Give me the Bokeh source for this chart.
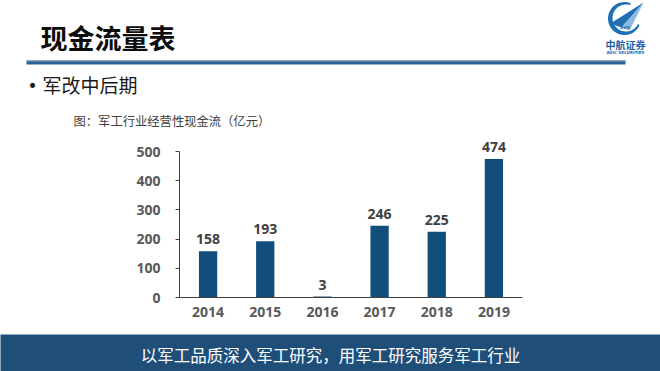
import numpy as np
from bokeh.plotting import figure
from bokeh.layouts import column
from bokeh.models import (ColumnDataSource, LabelSet, Label, FactorRange, Range1d)
from bokeh.core.properties import value
from bokeh.embed import file_html
from bokeh.resources import INLINE

# ---- data ----
years = ["2014", "2015", "2016", "2017", "2018", "2019"]
cash_flow = [158, 193, 3, 246, 225, 474]
value_labels = ["158", "193", "3", "246", "225", "474"]
y_ticks = [0, 100, 200, 300, 400, 500]

title_text = "现金流量表"
bullet_text = "军改中后期"
subtitle_text = "图：军工行业经营性现金流（亿元）"
footer_text = "以军工品质深入军工研究，用军工研究服务军工行业"

CJK = "Noto Sans CJK SC"
NUM = "Open Sans"
W = 660
HEAD_H, CHART_H, FOOT_H = 130, 204, 37


def deco_fig(h, y0):
    f = figure(width=W, height=h, x_range=Range1d(0, W), y_range=Range1d(y0 + h, y0),
               x_axis_type=None, y_axis_type=None, output_backend="svg",
               toolbar_location=None, min_border=0, frame_align=False)
    f.min_border_left = f.min_border_right = f.min_border_top = f.min_border_bottom = 0
    f.xgrid.visible = False
    f.ygrid.visible = False
    f.outline_line_color = None
    return f


def label(f, X, Y, text, size, color, font=CJK, style="normal", align="left"):
    f.add_layout(Label(x=X, y=Y, text=text, text_font=font, text_font_size=size,
                       text_font_style=style, text_color=color,
                       text_align=align, text_baseline="middle"))


# ---- header ----
head = deco_fig(HEAD_H, 0)
head.background_fill_color = "white"
head.border_fill_color = "white"
label(head, 40, 37, title_text, "27px", "#0d0d0d", style="bold")
head.quad(left=26, right=625, top=60, bottom=64, fill_color="#2f6398", line_color=None)
head.quad(left=26, right=625, top=60, bottom=61, fill_color="#7f9fc0", line_color=None)
label(head, 27, 85, "•", "17px", "#1a1a1a", font="DejaVu Sans")
label(head, 42, 84, bullet_text, "19px", "#1a1a1a")
label(head, 73, 120, subtitle_text, "12.3px", "#404040")

# logo
cx, cy = 624.0, 18.0
t = np.linspace(np.radians(70), np.radians(335), 40)
ox = list(cx + 16.5 * np.cos(t))
oy = list(cy - 16.5 * np.sin(t))
ix = list(cx + 1.5 + 13.5 * np.cos(t[::-1]))
iy = list(cy - 0.5 - 13.5 * np.sin(t[::-1]))
head.patch(ox + ix, oy + iy, fill_color="#1e6fb5", line_color=None)
head.patch([610, 643, 621], [23, 2, 27], fill_color="#1e6fb5", line_color=None)
head.patch([621, 643, 629], [27, 2, 30], fill_color="#8db8e0", line_color=None)
label(head, 625, 27, "AVIC", "4px", "#1e6fb5", font="DejaVu Sans", style="bold italic",
      align="center")
label(head, 625, 44, "中航证券", "10px", "#1e5fa8", style="bold", align="center")
label(head, 625, 52, "AVIC SECURITIES", "4px", "#1e5fa8", font="DejaVu Sans",
      style="bold", align="center")

# ---- chart ----
BL, BR, BT, BB = 179, 138, 0, 37
frame_h = CHART_H - BT - BB
y_top = frame_h / (146.0 / 500.0)

src = ColumnDataSource(dict(year=years, value=cash_flow, label=value_labels))

p = figure(width=W, height=CHART_H, x_range=FactorRange(factors=years, range_padding=0),
           y_range=Range1d(0, y_top), output_backend="svg", toolbar_location=None,
           min_border_left=BL, min_border_right=BR, min_border_top=BT,
           min_border_bottom=BB, frame_align=False)
p.background_fill_color = "white"
p.border_fill_color = "white"
p.outline_line_color = None
p.xgrid.visible = False
p.ygrid.visible = False

p.vbar(x="year", top="value", width=0.32, source=src,
       fill_color="#124e7b", line_color=None)

p.add_layout(LabelSet(x="year", y="value", text="label", source=src,
                      text_align="center", text_baseline="bottom", y_offset=7,
                      text_font=value(NUM), text_font_size="14px",
                      text_font_style="bold", text_color="#404040"))

for ax in (p.xaxis[0], p.yaxis[0]):
    ax.axis_line_color = "#404040"
    ax.axis_line_width = 1
    ax.major_label_text_font = NUM
    ax.major_label_text_font_size = "14px"
    ax.major_label_text_font_style = "bold"
    ax.major_label_text_color = "#595959"
    ax.minor_tick_line_color = None

p.yaxis.ticker = y_ticks
p.yaxis.bounds = (0, 500)
p.yaxis.major_tick_in = 0
p.yaxis.major_tick_out = 4
p.yaxis.major_tick_line_color = "#404040"
p.yaxis.major_label_standoff = 15
p.xaxis.major_tick_line_color = None
p.xaxis.major_tick_in = 0
p.xaxis.major_tick_out = 0
p.xaxis.major_label_standoff = 9

# ---- footer ----
foot = deco_fig(FOOT_H, HEAD_H + CHART_H)
foot.background_fill_color = "#1f4e79"
foot.border_fill_color = "#1f4e79"
label(foot, 330, 354, footer_text, "16.5px", "#ffffff", align="center")

layout = column(head, p, foot, spacing=0)
open("out.html", "w").write(file_html(layout, INLINE))
